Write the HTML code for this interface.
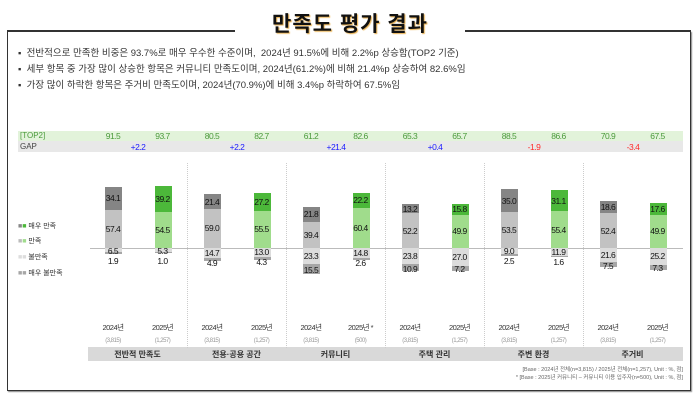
<!DOCTYPE html>
<html><head><meta charset="utf-8">
<style>
*{margin:0;padding:0;box-sizing:border-box}
body{width:700px;height:403px;background:#fff;position:relative;overflow:hidden;font-family:"Liberation Sans","Noto Sans CJK KR",sans-serif;color:#222}
.a{position:absolute;white-space:nowrap}
.frame{position:absolute;left:7px;top:31px;width:684px;height:360px;border:1.5px solid #333;border-top:none;box-shadow:1px 1px 1px #888}
.tl{position:absolute;top:30px;height:1.5px;background:#333}
.title{position:absolute;left:0;width:700px;top:8px;text-align:center;font-size:21px;font-weight:bold;letter-spacing:1px;color:#111;text-shadow:1px 1px 1px #e8b050}
.b{font-size:9.5px;color:#333;left:18px}
.v{font-size:8.5px;letter-spacing:-0.5px;text-align:center;width:30px;margin-left:-15px;color:#111}
.dv{position:absolute;top:163px;height:185px;border-left:1px dotted #ccc}
</style></head><body>
<div class="frame"></div>
<div class="tl" style="left:7px;width:228px"></div>
<div class="tl" style="left:465px;width:226px"></div>
<div class="title">만족도 평가 결과</div>
<div class="a b" style="top:45px">▪&nbsp; 전반적으로 만족한 비중은 93.7%로 매우 우수한 수준이며,&nbsp; 2024년 91.5%에 비해 2.2%p 상승함(TOP2 기준)</div>
<div class="a b" style="top:61px">▪&nbsp; 세부 항목 중 가장 많이 상승한 항목은 커뮤니티 만족도이며, 2024년(61.2%)에 비해 21.4%p 상승하여 82.6%임</div>
<div class="a b" style="top:77px">▪&nbsp; 가장 많이 하락한 항목은 주거비 만족도이며, 2024년(70.9%)에 비해 3.4%p 하락하여 67.5%임</div>
<div class="a" style="left:18px;top:131px;width:665px;height:10px;background:#e2f3da"></div>
<div class="a" style="left:18px;top:141px;width:665px;height:11px;background:#e8e8e8"></div>
<div class="a" style="left:20px;top:131px;font-size:8px;color:#4a9a3a">[TOP2]</div>
<div class="a" style="left:20px;top:142px;font-size:8px;color:#444">GAP</div>
<div class="a" style="left:88px;top:347px;width:595px;height:14px;background:#d9d9d9"></div>
<div class="a" style="left:90px;top:248px;width:593px;height:1px;background:#bbb"></div>
<div class="a" style="left:18px;top:221px;font-size:7px;color:#333"><span style="color:#888">■</span><span style="color:#4cb83a">■</span> 매우 만족</div>
<div class="a" style="left:18px;top:236px;font-size:7px;color:#333"><span style="color:#bbb">■</span><span style="color:#a0dc8c">■</span> 만족</div>
<div class="a" style="left:18px;top:252px;font-size:7px;color:#333"><span style="color:#ddd">■■</span> 불만족</div>
<div class="a" style="left:18px;top:268px;font-size:7px;color:#333"><span style="color:#a6a6a6">■■</span> 매우 불만족</div>
<div class="a" style="right:17px;top:365px;font-size:5.5px;color:#666">[Base : 2024년 전체(n=3,815) / 2025년 전체(n=1,257), Unit : %, 점]</div>
<div class="a" style="right:17px;top:373px;font-size:5.5px;color:#666">* [Base : 2025년 커뮤니티 – 커뮤니티 이용 입주자(n=500), Unit : %, 점]</div>
<div id="c"></div>
<script>
var d=[[34.1,57.4,6.5,1.9],[39.2,54.5,5.3,1.0],[21.4,59.0,14.7,4.9],[27.2,55.5,13.0,4.3],[21.8,39.4,23.3,15.5],[22.2,60.4,14.8,2.6],[13.2,52.2,23.8,10.9],[15.8,49.9,27.0,7.2],[35.0,53.5,9.0,2.5],[31.1,55.4,11.9,1.6],[18.6,52.4,21.6,7.5],[17.6,49.9,25.2,7.3]];
var top2=["91.5","93.7","80.5","82.7","61.2","82.6","65.3","65.7","88.5","86.6","70.9","67.5"];
var gap=["+2.2","+2.2","+21.4","+0.4","-1.9","-3.4"];
var cats=["전반적 만족도","전용·공용 공간","커뮤니티","주택 관리","주변 환경","주거비"];
var ns=["(3,815)","(1,257)","(3,815)","(1,257)","(3,815)","(500)","(3,815)","(1,257)","(3,815)","(1,257)","(3,815)","(1,257)"];
var h="",B=248,k=0.667;
function box(x,y,w,hh,c){return '<div class="a" style="left:'+x+'px;top:'+y+'px;width:'+w+'px;height:'+hh+'px;background:'+c+'"></div>';}
function lab(x,y,t,c){return '<div class="a v" style="left:'+x+'px;top:'+y+'px;'+(c?'color:'+c:'')+'">'+t+'</div>';}
for(var i=0;i<12;i++){
 var x=113+i*49.5,g=i%2==1,v=d[i];
 var c1=g?"#4cb83a":"#858585",c2=g?"#a0dc8c":"#c2c2c2";
 var h1=v[0]*k,h2=v[1]*k,h3=v[2]*k,h4=v[3]*k;
 h+=box(x-8,B-h2-h1,17,h1,c1)+box(x-8,B-h2,17,h2,c2)+box(x-8,B,17,h3,"#dcdcdc")+box(x-8,B+h3,17,h4,"#a6a6a6");
 h+=lab(x,B-h2-h1+h1/2-5,v[0].toFixed(1))+lab(x,B-h2/2-5,v[1].toFixed(1));
 var y3=Math.max(B+h3/2-5,B-2);h+=lab(x,y3,v[2].toFixed(1));
 var y4=Math.max(B+h3+h4/2-4,y3+10);h+=lab(x,y4,v[3].toFixed(1));
 h+=lab(x,131,top2[i],"#4a9a3a");
 h+='<div class="a v" style="left:'+x+'px;top:322px;font-size:7.5px;color:#333">'+(i%2?'2025년':'2024년')+(i==5?' *':'')+'</div>';
 h+='<div class="a v" style="left:'+x+'px;top:338px;font-size:6px;color:#999">'+ns[i]+'</div>';
}
for(var j=0;j<6;j++){
 var cx=138+j*99;
 h+=lab(cx,142,gap[j],j<4?"#1a1aff":"#ff2a2a");
 h+='<div class="a" style="left:'+(cx-50)+'px;width:99px;text-align:center;top:349px;font-size:8px;font-weight:bold;color:#333">'+cats[j]+'</div>';
 if(j>0)h+='<div class="dv" style="left:'+(cx-50)+'px"></div>';
}
document.getElementById("c").innerHTML=h;
</script>
</body></html>
